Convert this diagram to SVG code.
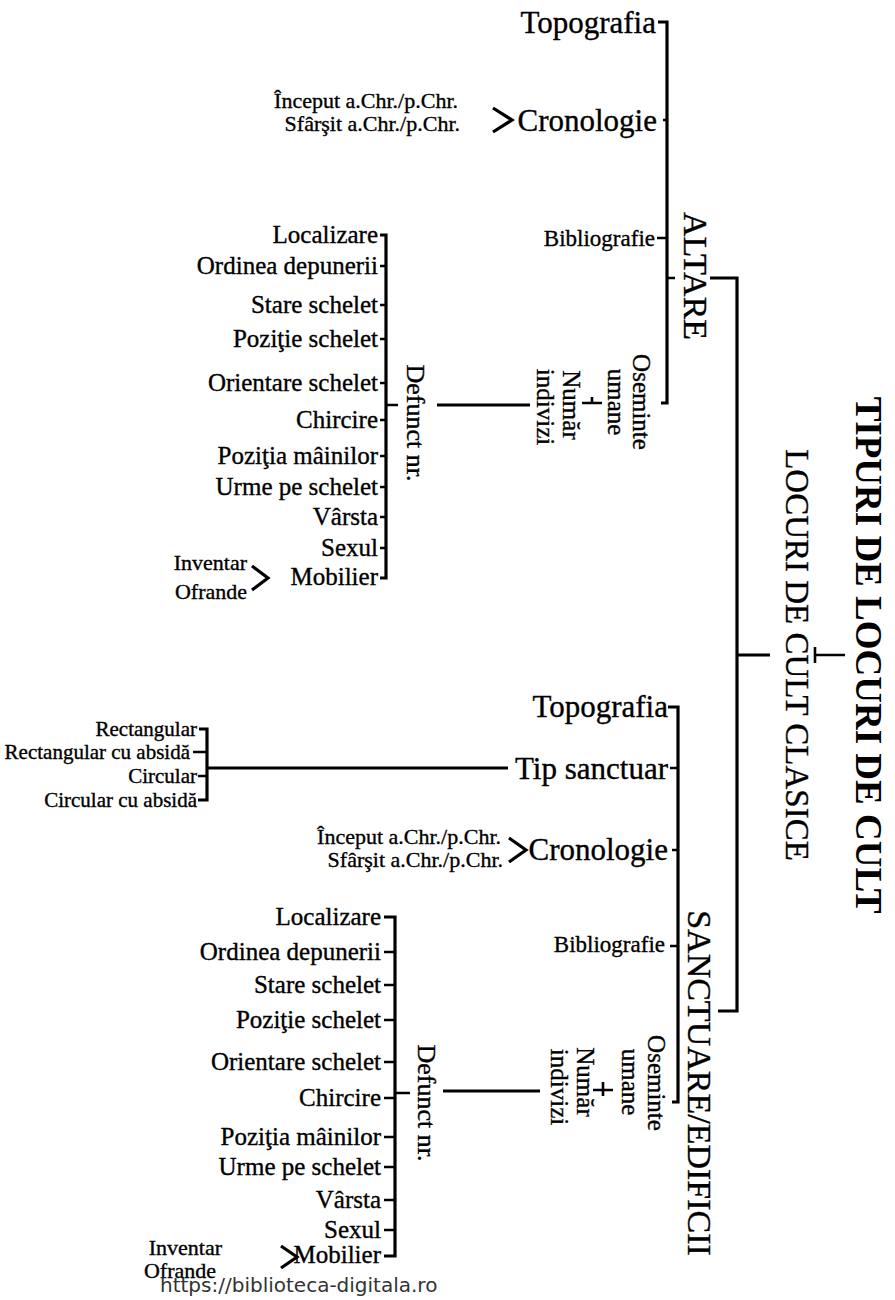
<svg xmlns="http://www.w3.org/2000/svg" width="895" height="1300" viewBox="0 0 895 1300">
  <style>
    .t { font-family: "Liberation Serif", "Times New Roman", serif; fill: #000; stroke: #000; stroke-width: 0.35; }
    .r { text-anchor: end; }
    .m { text-anchor: middle; }
    .big { font-size: 31px; }
    .mid { font-size: 23px; }
    .small { font-size: 22px; }
    .item { font-size: 25px; }
    .rot { font-size: 25px; }
    .head { font-size: 34px; }
    .ln { stroke: #000; stroke-width: 3.2; fill: none; stroke-linecap: butt; stroke-linejoin: miter; }
    .tk { stroke: #000; stroke-width: 2.6; fill: none; }
  </style>

  <!-- connectors -->
  <g id="connectors">
    <!-- title bracket joining both families -->
    <path class="ln" d="M710 278 H737 V1011 H718"/>
    <path class="ln" d="M737 655 H770"/>
    <path class="tk" d="M815 655 H845 M815 647 V663"/>

    <!-- ALTARE trunk -->
    <path class="ln" d="M658 22 H667 V403 H661"/>
    <path class="tk" d="M663 120 H667 M657 238 H667 M667 278 H675"/>
    <!-- Oseminte umane / Numar indivizi / Defunct -->
    <path class="tk" d="M582 403 H602 M592 397 V404"/>
    <path class="ln" d="M437 405 H530"/>
    <!-- ALTARE defunct list -->
    <path class="ln" d="M380 235 H386 V578 H380"/>
    <path class="tk" d="M380 266 H386 M380 305 H386 M380 339 H386 M380 383 H386 M380 420 H386 M380 456 H386 M380 487 H386 M380 517 H386 M380 548 H386 M386 405 H398"/>
    <polyline class="ln" points="252,566 268,578 252,590"/>
    <polyline class="ln" points="493,108 512,120 493,132"/>

    <!-- SANCTUARE trunk -->
    <path class="ln" d="M668 707 H678 V1102 H672"/>
    <path class="tk" d="M670 768 H678 M672 850 H678 M670 946 H678"/>
    <!-- sanctuary types -->
    <path class="ln" d="M207 768 H508"/>
    <path class="ln" d="M199 729 H207 V800 H198"/>
    <path class="tk" d="M193 752 H207 M198 776 H207"/>
    <polyline class="ln" points="509,838 526,850 509,862"/>
    <!-- Oseminte umane / Numar indivizi / Defunct -->
    <path class="tk" d="M593 1090 H613 M603 1082 V1096"/>
    <path class="ln" d="M443 1091 H540"/>
    <!-- SANCTUARE defunct list -->
    <path class="ln" d="M384 917 H395 V1256 H384"/>
    <path class="tk" d="M384 952 H395 M384 985 H395 M384 1020 H395 M384 1062 H395 M384 1098 H395 M384 1137 H395 M384 1167 H395 M384 1200 H395 M384 1230 H395 M395 1093 H410"/>
    <polyline class="ln" points="281,1246 297,1257 281,1268"/>
  </g>

  <!-- title -->
  <g id="title">
    <text class="t m" transform="translate(856,655) rotate(90)" style="font-size:37px;font-weight:bold;stroke-width:0">TIPURI DE LOCURI DE CULT</text>
  </g>
  <g id="locuri-clasice">
    <text class="t m" transform="translate(786,655) rotate(90)" style="font-size:33px">LOCURI DE CULT CLASICE</text>
  </g>

  <!-- ALTARE family -->
  <g id="altare">
    <text class="t m head" transform="translate(684,276) rotate(90)">ALTARE</text>
  </g>
  <g id="altare-topografia"><text class="t r big" x="656" y="33">Topografia</text></g>
  <g id="altare-cronologie">
    <text class="t r big" x="657" y="131">Cronologie</text>
    <text class="t r small" x="458" y="108">Început a.Chr./p.Chr.</text>
    <text class="t r small" x="460" y="131">Sfârşit a.Chr./p.Chr.</text>
  </g>
  <g id="altare-bibliografie"><text class="t r mid" x="655" y="246">Bibliografie</text></g>
  <g id="altare-oseminte">
    <text class="t m rot" transform="translate(633,402) rotate(90)">Oseminte</text>
    <text class="t m rot" transform="translate(608,402) rotate(90)">umane</text>
  </g>
  <g id="altare-numar">
    <text class="t m rot" transform="translate(563,405) rotate(90)">Număr</text>
    <text class="t m rot" transform="translate(537,407) rotate(90)">indivizi</text>
  </g>
  <g id="altare-defunct">
    <text class="t m" transform="translate(407,423) rotate(90)" style="font-size:26px">Defunct nr.</text>
  </g>
  <g id="altare-lista">
    <text class="t r item" x="378" y="243">Localizare</text>
    <text class="t r item" x="378" y="274">Ordinea depunerii</text>
    <text class="t r item" x="378" y="313">Stare schelet</text>
    <text class="t r item" x="378" y="347">Poziţie schelet</text>
    <text class="t r item" x="378" y="391">Orientare schelet</text>
    <text class="t r item" x="378" y="428">Chircire</text>
    <text class="t r item" x="378" y="464">Poziţia mâinilor</text>
    <text class="t r item" x="378" y="495">Urme pe schelet</text>
    <text class="t r item" x="378" y="525">Vârsta</text>
    <text class="t r item" x="378" y="556">Sexul</text>
    <text class="t r item" x="378" y="585">Mobilier</text>
    <text class="t r" x="247" y="570" style="font-size:22px">Inventar</text>
    <text class="t r" x="247" y="599" style="font-size:22px">Ofrande</text>
  </g>

  <!-- SANCTUARE/EDIFICII family -->
  <g id="sanctuare">
    <text class="t m head" transform="translate(688,1083) rotate(90)">SANCTUARE/EDIFICII</text>
  </g>
  <g id="sanctuare-topografia"><text class="t r big" x="668" y="717">Topografia</text></g>
  <g id="sanctuare-tip">
    <text class="t r big" x="668" y="779">Tip sanctuar</text>
  </g>
  <g id="tip-lista">
    <text class="t r" x="197" y="736" style="font-size:21px">Rectangular</text>
    <text class="t r" x="190" y="759" style="font-size:21px">Rectangular cu absidă</text>
    <text class="t r" x="197" y="783" style="font-size:21px">Circular</text>
    <text class="t r" x="197" y="807" style="font-size:21px">Circular cu absidă</text>
  </g>
  <g id="sanctuare-cronologie">
    <text class="t r big" x="668" y="860">Cronologie</text>
    <text class="t r small" x="501" y="844">Început a.Chr./p.Chr.</text>
    <text class="t r small" x="503" y="867">Sfârşit a.Chr./p.Chr.</text>
  </g>
  <g id="sanctuare-bibliografie"><text class="t r mid" x="665" y="952">Bibliografie</text></g>
  <g id="sanctuare-oseminte">
    <text class="t m rot" transform="translate(648,1083) rotate(90)">Oseminte</text>
    <text class="t m rot" transform="translate(622,1082) rotate(90)">umane</text>
  </g>
  <g id="sanctuare-numar">
    <text class="t m rot" transform="translate(577,1082) rotate(90)">Număr</text>
    <text class="t m rot" transform="translate(551,1087) rotate(90)">indivizi</text>
  </g>
  <g id="sanctuare-defunct">
    <text class="t m" transform="translate(418,1103) rotate(90)" style="font-size:26px">Defunct nr.</text>
  </g>
  <g id="sanctuare-lista">
    <text class="t r item" x="381" y="925">Localizare</text>
    <text class="t r item" x="381" y="960">Ordinea depunerii</text>
    <text class="t r item" x="381" y="993">Stare schelet</text>
    <text class="t r item" x="381" y="1028">Poziţie schelet</text>
    <text class="t r item" x="381" y="1070">Orientare schelet</text>
    <text class="t r item" x="381" y="1106">Chircire</text>
    <text class="t r item" x="381" y="1145">Poziţia mâinilor</text>
    <text class="t r item" x="381" y="1175">Urme pe schelet</text>
    <text class="t r item" x="381" y="1208">Vârsta</text>
    <text class="t r item" x="381" y="1238">Sexul</text>
    <text class="t r item" x="381" y="1263">Mobilier</text>
    <text class="t r" x="222" y="1255" style="font-size:22px">Inventar</text>
    <text class="t r" x="216" y="1278" style="font-size:22px">Ofrande</text>
  </g>

  <!-- source link -->
  <g id="source">
    <text x="160" y="1292" style="font-family:'DejaVu Sans',sans-serif;font-size:20px;fill:#333">https://biblioteca-digitala.ro</text>
  </g>
</svg>
